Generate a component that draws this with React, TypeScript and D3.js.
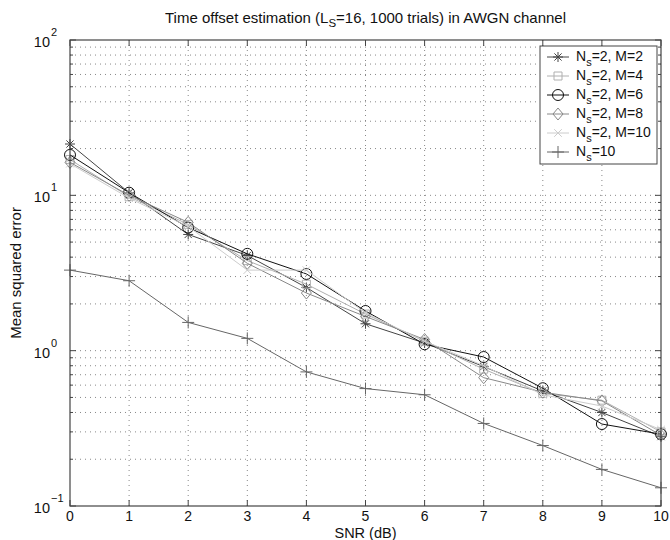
import React from "react";
import * as d3 from "d3";

const snr = [0, 1, 2, 3, 4, 5, 6, 7, 8, 9, 10];
const m2 = [21.4, 10.4, 5.6, 4.1, 2.55, 1.49, 1.12, 0.79, 0.55, 0.4, 0.28];
const m4 = [17.0, 9.8, 6.5, 3.8, 2.68, 1.72, 1.15, 0.76, 0.53, 0.48, 0.3];
const m6 = [18.2, 10.4, 6.2, 4.2, 3.12, 1.8, 1.1, 0.91, 0.573, 0.337, 0.29];
const m8 = [16.3, 10.0, 6.7, 3.65, 2.35, 1.66, 1.18, 0.67, 0.54, 0.475, 0.285];
const m10 = [16.0, 9.6, 6.3, 3.3, 3.3, 1.75, 1.15, 0.8, 0.52, 0.44, 0.31];
const ns10 = [3.3, 2.82, 1.52, 1.2, 0.73, 0.57, 0.52, 0.34, 0.245, 0.172, 0.131];

const seriesNames = ["M=2", "M=4", "M=6", "M=8", "M=10", "Ns10"];
const seriesValues = [m2, m4, m6, m8, m10, ns10];
const seriesColors = ["#444444", "#b0b0b0", "#111111", "#888888", "#cccccc", "#666666"];
const seriesMarkers = ["star", "square", "circle", "diamond", "x", "plus"];
const legendM = ["2", "4", "6", "8", "10", ""];

const xTicks = [0, 1, 2, 3, 4, 5, 6, 7, 8, 9, 10];
const yDecades = [0.1, 1, 10, 100];
const yExps = ["−1", "0", "1", "2"];

const W = 670, H = 540;
const L = 70, R = 661, T = 40, B = 506;
const FONT = "'Liberation Sans', Arial, Helvetica, sans-serif";

function markerPath(kind: string, cx: number, cy: number): string {
  const s = 5;
  switch (kind) {
    case "star": {
      const d = s * 0.72;
      return `M${cx - s},${cy}L${cx + s},${cy}M${cx},${cy - s}L${cx},${cy + s}M${cx - d},${cy - d}L${cx + d},${cy + d}M${cx - d},${cy + d}L${cx + d},${cy - d}`;
    }
    case "square":
      return `M${cx - 4},${cy - 4}H${cx + 4}V${cy + 4}H${cx - 4}Z`;
    case "circle":
      return `M${cx - 5.5},${cy}A5.5,5.5 0 1,0 ${cx + 5.5},${cy}A5.5,5.5 0 1,0 ${cx - 5.5},${cy}Z`;
    case "diamond":
      return `M${cx},${cy - 6}L${cx + 5},${cy}L${cx},${cy + 6}L${cx - 5},${cy}Z`;
    case "x": {
      const d = 3.8;
      return `M${cx - d},${cy - d}L${cx + d},${cy + d}M${cx - d},${cy + d}L${cx + d},${cy - d}`;
    }
    default:
      return `M${cx - 6},${cy}L${cx + 6},${cy}M${cx},${cy - 6}L${cx},${cy + 6}`;
  }
}

export default function App() {
  const x = d3.scaleLinear().domain([0, 10]).range([L, R]);
  const y = d3.scaleLog().domain([0.1, 100]).range([B, T]);
  const minor: number[] = [];
  for (let e = -1; e < 2; e++) {
    for (let k = 2; k <= 9; k++) minor.push(k * Math.pow(10, e));
  }
  const line = d3
    .line<number>()
    .x((_, i) => x(snr[i]))
    .y((v) => y(v));
  const axisColor = "#444";
  const gridProps = { stroke: "#888", strokeWidth: 1, strokeDasharray: "1,4" };

  const legX = 540, legY = 46, legW = 117, legH = 118;
  const rowY = (i: number) => legY + 11 + i * 19;

  return (
    <svg width={W} height={H} style={{ position: "absolute", left: 0, top: 0, background: "#fff" }} fontFamily={FONT}>
      <rect x={0} y={0} width={W} height={H} fill="#fff" />
      {/* grid */}
      {xTicks.slice(1, -1).map((t) => (
        <line key={"gx" + t} x1={x(t)} x2={x(t)} y1={T} y2={B} {...gridProps} />
      ))}
      {[...minor, 1, 10].map((v) => (
        <line key={"gy" + v} x1={L} x2={R} y1={y(v)} y2={y(v)} {...gridProps} />
      ))}
      {/* series */}
      {seriesValues.map((vals, si) => (
        <g key={"s" + si}>
          <path d={line(vals) || ""} fill="none" stroke={seriesColors[si]} strokeWidth={1} />
          {vals.map((v, i) => (
            <path key={i} d={markerPath(seriesMarkers[si], x(snr[i]), y(v))} fill="none" stroke={seriesColors[si]} strokeWidth={1} />
          ))}
        </g>
      ))}
      {/* frame */}
      <rect x={L} y={T} width={R - L} height={B - T} fill="none" stroke={axisColor} strokeWidth={1.2} />
      {/* x ticks */}
      {xTicks.map((t) => (
        <g key={"xt" + t}>
          <line x1={x(t)} x2={x(t)} y1={B} y2={B - 6} stroke={axisColor} />
          <line x1={x(t)} x2={x(t)} y1={T} y2={T + 6} stroke={axisColor} />
          <text x={x(t)} y={521} textAnchor="middle" fontSize={14} fill="#111">{t}</text>
        </g>
      ))}
      {/* y ticks */}
      {yDecades.map((v, i) => (
        <g key={"yt" + v}>
          <line x1={L} x2={L + 6} y1={y(v)} y2={y(v)} stroke={axisColor} />
          <line x1={R} x2={R - 6} y1={y(v)} y2={y(v)} stroke={axisColor} />
          <text x={50} y={y(v) + 7} textAnchor="end" fontSize={14.5} fill="#111">10</text>
          <text x={51} y={y(v) - 4} textAnchor="start" fontSize={11} fill="#111">{yExps[i]}</text>
        </g>
      ))}
      {minor.map((v) => (
        <g key={"ym" + v}>
          <line x1={L} x2={L + 3} y1={y(v)} y2={y(v)} stroke={axisColor} />
          <line x1={R} x2={R - 3} y1={y(v)} y2={y(v)} stroke={axisColor} />
        </g>
      ))}
      {/* titles */}
      <text x={(L + R) / 2} y={23} textAnchor="middle" fontSize={15} fill="#111">
        Time offset estimation (L<tspan fontSize={11.5} dy={4}>S</tspan><tspan dy={-4}>=16, 1000 trials) in AWGN channel</tspan>
      </text>
      <text x={(L + R) / 2} y={538} textAnchor="middle" fontSize={14.5} fill="#111">SNR (dB)</text>
      <text transform={`translate(21,${(T + B) / 2}) rotate(-90)`} textAnchor="middle" fontSize={15} fill="#111">Mean squared error</text>
      {/* legend */}
      <rect x={legX} y={legY} width={legW} height={legH} fill="#fff" stroke={axisColor} strokeWidth={1} />
      {seriesNames.map((n, i) => (
        <g key={"lg" + n}>
          <line x1={legX + 7} x2={legX + 29} y1={rowY(i)} y2={rowY(i)} stroke={seriesColors[i]} />
          <path d={markerPath(seriesMarkers[i], legX + 18, rowY(i))} fill="none" stroke={seriesColors[i]} />
          <text x={legX + 36} y={rowY(i) + 4} fontSize={14} fill="#111">
            N<tspan fontSize={11} dy={5}>s</tspan>
            <tspan dy={-5}>{i < 5 ? `=2, M=${legendM[i]}` : "=10"}</tspan>
          </text>
        </g>
      ))}
    </svg>
  );
}
